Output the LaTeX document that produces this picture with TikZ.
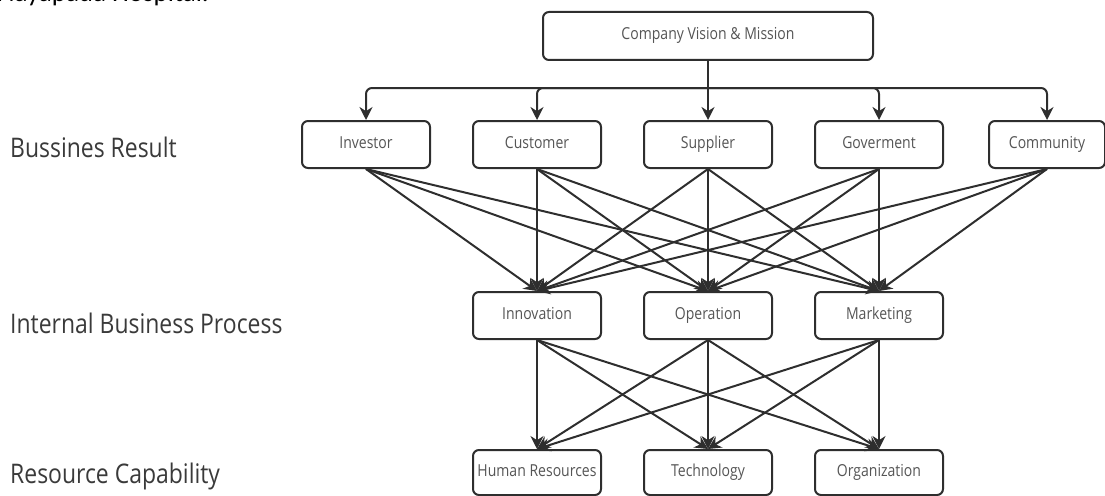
\documentclass[tikz,border=0pt]{standalone}
\usepackage{fontspec}
\setmainfont{Open Sans}[FakeStretch=0.85]
\newfontfamily\topfont{Carlito}
\usetikzlibrary{arrows.meta}
\definecolor{ln}{HTML}{2E2E2E}
\definecolor{tx}{HTML}{555555}
\definecolor{lb}{HTML}{3A3A3A}
\begin{document}
\begin{tikzpicture}[x=1pt,y=-1pt,
 box/.style={draw=ln, line width=2pt, rounded corners=6pt, minimum width=128pt, minimum height=47pt, inner sep=0pt, text height=11.5pt, text depth=3.5pt, font=\fontsize{16.5}{18}\selectfont, text=tx, fill=white},
 lbl/.style={anchor=base west, inner sep=0pt, font=\fontsize{27}{30}\selectfont, text=lb},
 conn/.style={draw=ln, line width=2pt, -{Stealth[length=13pt,width=13pt]}}]
\useasboundingbox (0,0) rectangle (1105,495);
\clip (0,0) rectangle (1105,495);
% top fragment
\node[anchor=base west, inner sep=0pt, font=\topfont\fontsize{27}{30}\selectfont] (hosp) at (-3,2) {Nayapada Hospital.};
% row labels
\node[lbl] (l1) at (10,157) {Bussines Result};
\node[lbl] (l2) at (10,333) {Internal Business Process};
\node[lbl] (l3) at (10,483) {Resource Capability};
% boxes
\node[box, minimum width=330pt, minimum height=48pt] (vm) at (708,36) {Company Vision \& Mission};
\node[box] (inv) at (366,144.5) {Investor};
\node[box] (cus) at (537,144.5) {Customer};
\node[box] (sup) at (708,144.5) {Supplier};
\node[box] (gov) at (879,144.5) {Goverment};
\node[box, minimum width=116pt] (com) at (1047,144.5) {Community};
\node[box] (inn) at (537,315.5) {Innovation};
\node[box] (ope) at (708,315.5) {Operation};
\node[box] (mar) at (879,315.5) {Marketing};
\node[box, minimum height=45pt] (hr) at (537,472.5) {Human Resources};
\node[box, minimum height=45pt] (tec) at (708,472.5) {Technology};
\node[box, minimum height=45pt] (org) at (879,472.5) {Organization};
% top connectors
\coordinate (bus) at (708,88);
\draw[conn] (vm.south) -- (sup.north);
\foreach \t in {inv,cus,gov,com} \draw[conn, rounded corners=6pt] (bus) -| (\t.north);
% cross connectors
\foreach \s in {inv,cus,sup,gov,com} \foreach \t in {inn,ope,mar} \draw[conn] (\s.south) -- (\t.north);
\foreach \s in {inn,ope,mar} \foreach \t in {hr,tec,org} \draw[conn] (\s.south) -- (\t.north);
\end{tikzpicture}
\end{document}
